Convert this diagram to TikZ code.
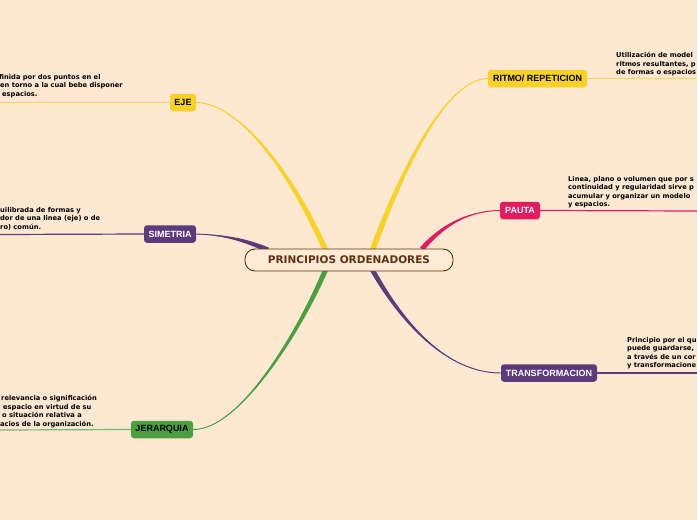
\documentclass[tikz,border=0pt]{standalone}
\usepackage{fontspec}
\setmainfont{DejaVu Sans}
\newfontfamily\lblfont{Liberation Sans}
\usetikzlibrary{calc}
\definecolor{bg}{HTML}{FEE8D2}
\definecolor{cyel}{HTML}{F9D225}
\definecolor{cpur}{HTML}{5D3A7B}
\definecolor{cgrn}{HTML}{4AA03F}
\definecolor{cpink}{HTML}{E31C5F}
\definecolor{cbrown}{HTML}{5E3110}
\definecolor{cfill}{HTML}{FFEAD6}
\newcommand{\taper}[6]{%
  \fill[#1] #2 .. controls ($#3+0.2*#6$) and ($#4+0.8*#6$) .. ($#5+#6$) -- ($#5-#6$) .. controls ($#4-0.8*#6$) and ($#3-0.2*#6$) .. #2 -- cycle;
  \draw[#1, line width=0.9pt] #2 .. controls #3 and #4 .. #5;
}
\begin{document}
\begin{tikzpicture}[x=1pt,y=-1pt,
  topic/.style={rounded corners=3pt, minimum height=17.5pt, inner sep=0pt,
    font=\lblfont\fontsize{9}{10}\selectfont\bfseries},
  desc/.style={anchor=north west, inner sep=0pt, align=left,
    font=\fontsize{6.7}{8.5}\selectfont\bfseries},
  link/.style={line width=1.2pt}
  ]
\useasboundingbox (0,0) rectangle (697,520);
\fill[bg] (0,0) rectangle (697,520);
\clip (0,0) rectangle (697,520);

% topic nodes
\node[topic, fill=cyel, minimum width=26pt] (eje) at (183,102.5) {EJE};
\node[topic, fill=cpur, text=white, minimum width=52pt] (sim) at (170,234) {SIMETRIA};
\node[topic, fill=cgrn, minimum width=62pt] (jer) at (162,429.5) {JERARQUIA};
\node[topic, fill=cyel, minimum width=99pt] (rit) at (537.5,78.5) {RITMO/ REPETICION};
\node[topic, fill=cpink, text=white, minimum width=40pt] (pau) at (520,210.5) {PAUTA};
\node[topic, fill=cpur, text=white, minimum width=96pt] (tra) at (549,373) {TRANSFORMACION};

% free ends of the description lines
\coordinate (ejeE) at (0,102.5);
\coordinate (simE) at (0,234.5);
\coordinate (jerE) at (0,430);
\coordinate (ritE) at (697,78.5);
\coordinate (pauE) at (697,211);
\coordinate (traE) at (697,373);

\draw[link, cyel!85!white] (eje.west) -- (ejeE);
\draw[link, cpur] (sim.west) -- (simE);
\draw[link, cgrn!75!white] (jer.west) -- (jerE);
\draw[link, cyel!85!white] (rit.east) -- (ritE);
\draw[link, cpink] (pau.east) -- (pauE);
\draw[link, cpur] (tra.east) -- (traE);

% centre anchor points
\coordinate (rN) at (349,249);
\coordinate (rS) at (349,271);

% tapered branches
\taper{cyel}{(eje.east)}{(235,103)}{(285,160)}{($(rN)+(-24,0)$)}{(3,0)}
\taper{cyel}{(rit.west)}{(445,79)}{(400,175)}{($(rN)+(24,0)$)}{(3,0)}
\taper{cpur}{(sim.east)}{(225,235)}{(245,240)}{($(rN)+(-81,1)$)}{(0.8,-2.4)}
\taper{cpink}{(pau.west)}{(465,211)}{(440,228)}{($(rN)+(73,0)$)}{(2,1.5)}
\taper{cgrn}{(jer.east)}{(240,430)}{(300,330)}{($(rS)+(-24,0)$)}{(2.8,0)}
\taper{cpur}{(tra.west)}{(440,373)}{(395,310)}{($(rS)+(24,0)$)}{(2.8,0)}

% central node
\node[draw=cbrown, fill=cfill, rounded corners=10pt, line width=0.9pt,
  minimum width=208pt, minimum height=22pt, inner sep=0pt, text=cbrown,
  font=\fontsize{10.5}{12}\selectfont\bfseries] (root) at (349,260) {PRINCIPIOS ORDENADORES};

% descriptions
\node[desc] (dEje) at (-1,74) {finida por dos puntos en el\\\hspace{1pt}en torno a la cual bebe disponer\\\hspace{3pt}espacios.};
\node[desc] (dSim) at (0,207) {uilibrada de formas y\\dor de una linea (eje) o de\\ro) común.};
\node[desc] (dJer) at (1,395) {relevancia o significación\\\hspace{2pt}espacio en virtud de su\\\hspace{1pt}o situación relativa a\\\hspace{-1pt}acios de la organización.};
\node[desc] (dRit) at (616,52) {Utilización de model\\ritmos resultantes, p\\de formas o espacios};
\node[desc] (dPau) at (568,176) {Linea, plano o volumen que por s\\continuidad y regularidad sirve p\\acumular y organizar un modelo\\y espacios.};
\node[desc] (dTra) at (627,337) {Principio por el qu\\puede guardarse,\\a través de un cor\\y transformacione};
\end{tikzpicture}
\end{document}
